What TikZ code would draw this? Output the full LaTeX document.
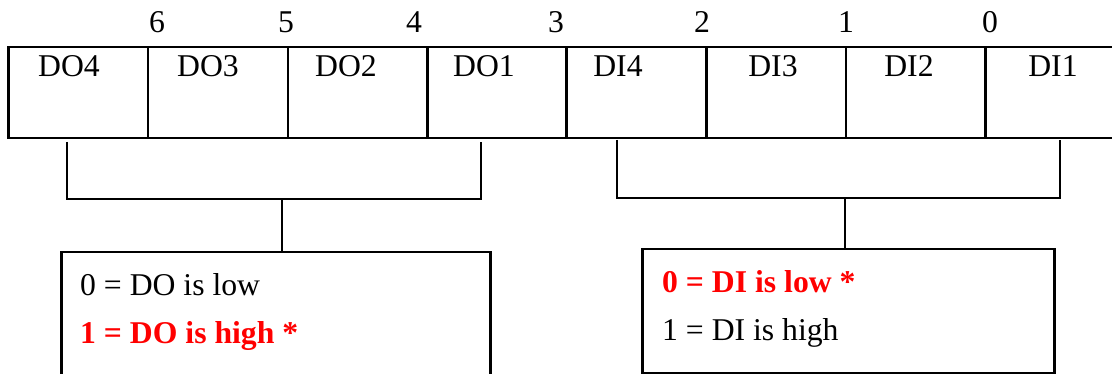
\documentclass[tikz,border=0pt]{standalone}
\usepackage{fontspec}
\setmainfont{Liberation Serif}
\definecolor{hired}{RGB}{255,0,0}
\begin{document}
\begin{tikzpicture}[x=1pt,y=-1pt,
  every node/.style={font=\fontsize{31.7}{38}\selectfont},
  cell/.style={draw,line width=2.5pt,minimum height=91pt,inner sep=0pt,anchor=north west},
  lbl/.style={anchor=base,inner sep=0pt},
  info/.style={draw,line width=2.5pt,inner sep=0pt,anchor=north west},
  itext/.style={anchor=base west,inner sep=0pt},
  hot/.style={itext,text=hired,font=\fontsize{31.7}{38}\selectfont\bfseries},
  wire/.style={line width=2.2pt}]
\useasboundingbox (0,0) rectangle (1112,374);
\clip (0,0) rectangle (1112,374);
% bit numbers
\foreach \x/\n in {157/6,286/5,414/4,556/3,702/2,846/1,990/0}
  \node[lbl] (n\n) at (\x,33) {\n};
% register cells
\foreach \l/\r/\k in {7/146.5/8,146.5/286.5/7,286.5/426/6,426/565/5,565/705/4,705/844.5/3,844.5/984/2,984/1124/1}
  \node[cell,minimum width={(\r-\l)*1pt}] (c\k) at (\l,46) {};
\node[lbl] (t8) at (69,77) {DO4};
\node[lbl] (t7) at (208,77) {DO3};
\node[lbl] (t6) at (346,77) {DO2};
\node[lbl] (t5) at (484,77) {DO1};
\node[lbl] (t4) at (618,77) {DI4};
\node[lbl] (t3) at (773,77) {DI3};
\node[lbl] (t2) at (909,77) {DI2};
\node[lbl] (t1) at (1053,77) {DI1};
% info boxes
\node[info,minimum width=429pt,minimum height=140pt] (dobox) at (60,251) {};
\node[info,minimum width=412pt,minimum height=124pt] (dibox) at (641,248) {};
\node[itext] (do0) at (80,296) {0 = DO is low};
\node[hot] (do1) at (80,343) {1 = DO is high *};
\node[hot] (di0) at (662,293) {0 = DI is low *};
\node[itext] (di1) at (662,341) {1 = DI is high};
% brackets
\coordinate (la) at (67,142);
\coordinate (lb) at (481,142);
\coordinate (lm) at (282,199);
\coordinate (ra) at (617,140);
\coordinate (rb) at (1060,140);
\coordinate (rm) at (845,198);
\draw[wire] (la) -- (la |- lm) -- (lb |- lm) -- (lb);
\draw[wire] (lm) -- (lm |- dobox.north);
\draw[wire] (ra) -- (ra |- rm) -- (rb |- rm) -- (rb);
\draw[wire] (rm) -- (rm |- dibox.north);
\end{tikzpicture}
\end{document}
